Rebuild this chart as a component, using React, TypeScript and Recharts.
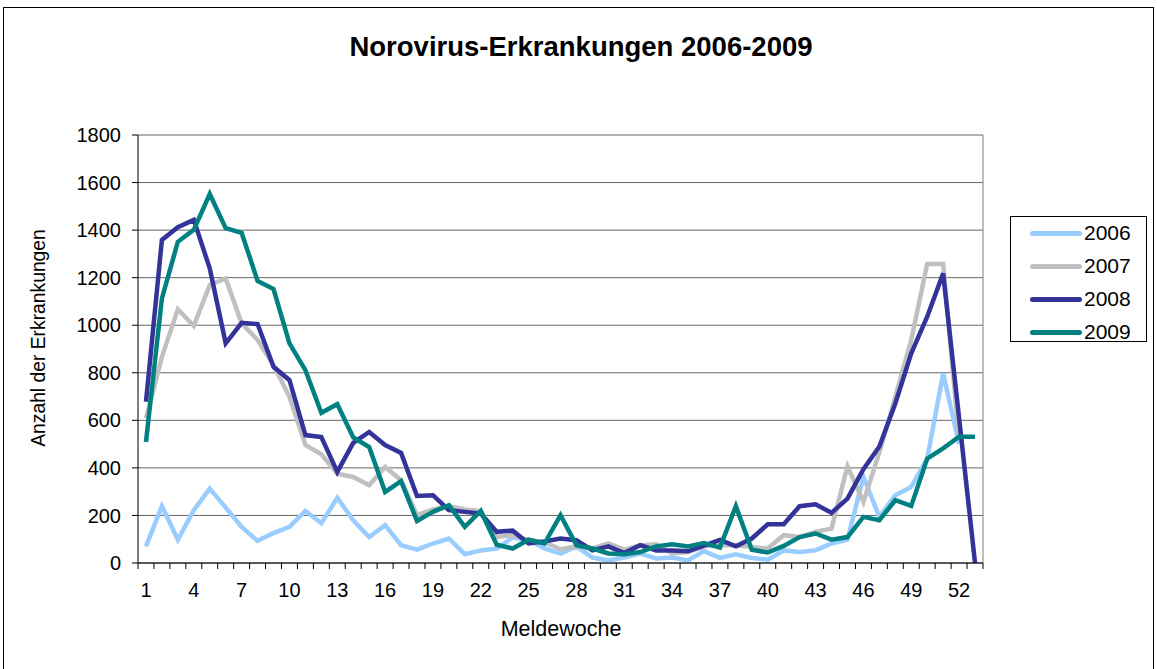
import { LineChart, Line, XAxis, YAxis, CartesianGrid, ReferenceLine } from "recharts";

// Meldewochen 1-53
const weeks = [
  1, 2, 3, 4, 5, 6, 7, 8, 9, 10, 11, 12, 13, 14, 15, 16, 17, 18, 19, 20, 21, 22, 23, 24, 25, 26, 27,
  28, 29, 30, 31, 32, 33, 34, 35, 36, 37, 38, 39, 40, 41, 42, 43, 44, 45, 46, 47, 48, 49, 50, 51, 52, 53,
];
const weekLabels = [1, 4, 7, 10, 13, 16, 19, 22, 25, 28, 31, 34, 37, 40, 43, 46, 49, 52];
const yTicks = [0, 200, 400, 600, 800, 1000, 1200, 1400, 1600, 1800];

const cases2006 = [
  70, 239, 98, 222, 313, 233, 152, 93, 126, 152, 219, 167, 274, 180, 109, 159, 75, 56, 82, 103, 37, 53, 61,
  108, 96, 61, 40, 70, 23, 11, 23, 40, 19, 23, 11, 50, 21, 37, 21, 14, 53, 46, 53, 82, 98, 362, 194, 285, 320,
  439, 797, 500, null,
];
const cases2007 = [
  608, 867, 1067, 997, 1169, 1197, 1008, 938, 832, 699, 496, 457, 376, 362, 327, 404, 348, 201, 225, 239, 225,
  218, 109, 118, 96, 88, 58, 70, 61, 82, 56, 75, 79, 40, 46, 70, 75, 75, 67, 61, 117, 109, 131, 145, 407, 257,
  465, 699, 938, 1258, 1258, 520, null,
];
const cases2008 = [
  678, 1359, 1412, 1443, 1239, 924, 1010, 1005, 825, 769, 538, 530, 383, 505, 551, 496, 463, 282, 285, 222, 215,
  208, 131, 136, 82, 91, 103, 96, 53, 70, 42, 75, 53, 53, 49, 73, 97, 70, 103, 163, 163, 239, 247, 211, 271, 395,
  490, 671, 882, 1036, 1218, 610, 0,
];
const cases2009 = [
  509, 1113, 1351, 1401, 1552, 1408, 1389, 1186, 1152, 924, 811, 632, 668, 528, 488, 299, 344, 177, 215, 243, 152,
  219, 77, 61, 98, 82, 201, 75, 61, 40, 37, 46, 70, 79, 70, 84, 65, 239, 56, 44, 72, 109, 124, 98, 109, 194, 180,
  264, 240, 439, 482, 531, 531,
];

const seriesNames = ["2006", "2007", "2008", "2009"];
const seriesColors = ["#99ccff", "#c0c0c0", "#333399", "#008080"];
const seriesValues = [cases2006, cases2007, cases2008, cases2009];

const chartData = weeks.map((w, i) => {
  const row: Record<string, number | null> = { week: w };
  seriesNames.forEach((name, s) => {
    row[name] = seriesValues[s][i];
  });
  return row;
});

const FONT = "'Liberation Sans', Arial, sans-serif";
const PLOT_LEFT = 138;
const PLOT_RIGHT = 983;
const PLOT_TOP = 135;
const PLOT_BOTTOM = 563;
const HALF_STEP = (PLOT_RIGHT - PLOT_LEFT) / weeks.length / 2;

// Excel-style ticks: marks between weeks, label every third week
const WeekTick = (props: any) => {
  const { x, payload } = props;
  const last = payload.value === weeks[weeks.length - 1];
  return (
    <g>
      <line x1={x - HALF_STEP} x2={x - HALF_STEP} y1={PLOT_BOTTOM} y2={PLOT_BOTTOM + 6} stroke="#000" />
      {last && <line x1={x + HALF_STEP} x2={x + HALF_STEP} y1={PLOT_BOTTOM} y2={PLOT_BOTTOM + 6} stroke="#000" />}
      {weekLabels.includes(payload.value) && (
        <text x={x} y={597} textAnchor="middle" fontSize={20} fontFamily={FONT} fill="#000">
          {payload.value}
        </text>
      )}
    </g>
  );
};

export default function App() {
  return (
    <div style={{ position: "absolute", left: 0, top: 0, width: 1157, height: 669, overflow: "hidden", background: "#fff" }}>
      <div
        style={{
          position: "absolute",
          left: 3,
          top: 7,
          width: 1151,
          height: 700,
          border: "1px solid #000",
          boxSizing: "border-box",
        }}
      />
      <div style={{ position: "absolute", left: 0, top: 0 }}>
        <LineChart
          width={1157}
          height={669}
          data={chartData}
          margin={{ top: PLOT_TOP, right: 1157 - PLOT_RIGHT, bottom: 669 - PLOT_BOTTOM - 40, left: PLOT_LEFT - 60 }}
        >
          <CartesianGrid vertical={false} stroke="#666" strokeWidth={1} />
          <XAxis
            dataKey="week"
            type="number"
            domain={[0.5, 53.5]}
            ticks={weeks}
            interval={0}
            height={40}
            tickLine={false}
            axisLine={{ stroke: "#000" }}
            tick={<WeekTick />}
          />
          <YAxis
            domain={[0, 1800]}
            ticks={yTicks}
            width={60}
            tickSize={6}
            tickMargin={11}
            axisLine={{ stroke: "#000" }}
            tickLine={{ stroke: "#000" }}
            tick={{ fill: "#000", fontSize: 20, fontFamily: FONT }}
          />
          <ReferenceLine x={53.5} stroke="#808080" />
          {seriesNames.map((name, s) => (
            <Line
              key={name}
              dataKey={name}
              stroke={seriesColors[s]}
              strokeWidth={4.5}
              dot={false}
              activeDot={false}
              isAnimationActive={false}
            />
          ))}
        </LineChart>
      </div>
      <svg width={1157} height={669} style={{ position: "absolute", left: 0, top: 0, pointerEvents: "none" }}>
        <text x={581} y={56} textAnchor="middle" fontSize={27.5} fontWeight="bold" fontFamily={FONT} fill="#000">
          Norovirus-Erkrankungen 2006-2009
        </text>
        <text x={561} y={636} textAnchor="middle" fontSize={21.5} fontFamily={FONT} fill="#000">
          Meldewoche
        </text>
        <text
          x={45}
          y={338}
          transform="rotate(-90 45 338)"
          textAnchor="middle"
          fontSize={19.3}
          fontFamily={FONT}
          fill="#000"
        >
          Anzahl der Erkrankungen
        </text>
      </svg>
      <div
        style={{
          position: "absolute",
          left: 1010,
          top: 216,
          width: 137,
          height: 126,
          border: "1px solid #000",
          boxSizing: "border-box",
          fontFamily: FONT,
        }}
      >
        {seriesNames.map((name, s) => (
          <div key={name} style={{ position: "absolute", left: 0, top: 16 + s * 33 - 12, height: 24, width: 135 }}>
            <div
              style={{
                position: "absolute",
                left: 19,
                top: 10,
                width: 52,
                height: 5,
                borderRadius: 3,
                background: seriesColors[s],
              }}
            />
            <div style={{ position: "absolute", left: 73, top: 0, fontSize: 21, lineHeight: "24px", color: "#000" }}>
              {name}
            </div>
          </div>
        ))}
      </div>
    </div>
  );
}
